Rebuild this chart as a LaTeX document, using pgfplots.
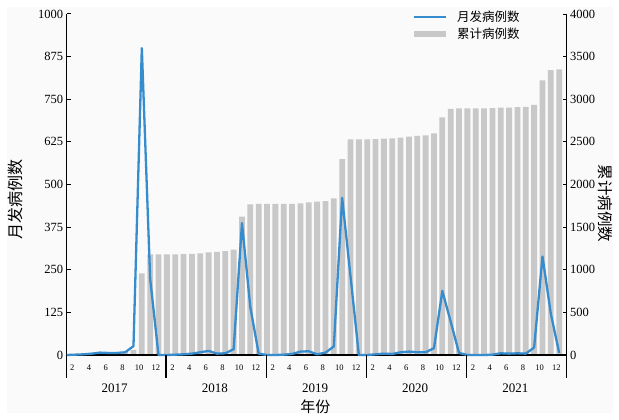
\documentclass[border=0pt]{standalone}
\usepackage{fontspec}
\setmainfont{Liberation Serif}
\newfontfamily\cjk{Noto Sans CJK SC}
\usepackage{pgfplots}
\usepackage{pgfplotstable}
\pgfplotsset{compat=1.18}
\definecolor{linec}{RGB}{55,140,205}
\definecolor{barc}{RGB}{200,200,200}
\definecolor{bgc}{RGB}{250,250,250}

\pgfplotstableread{
idx month cum
0 0 0
1 1 1
2 2 3
3 4 7
4 7 14
5 6 20
6 6 26
7 8 34
8 26 60
9 900 958
10 223 1181
11 0 1181
12 0 1181
13 1 1181
14 2 1183
15 4 1186
16 8 1192
17 12 1204
18 4 1210
19 5 1218
20 17 1235
21 387 1622
22 140 1768
23 4 1772
24 0 1772
25 0 1772
26 1 1773
27 3 1774
28 10 1779
29 11 1791
30 2 1799
31 7 1806
32 25 1838
33 461 2299
34 231 2530
35 0 2530
36 0 2530
37 2 2532
38 4 2538
39 3 2540
40 8 2549
41 10 2561
42 8 2569
43 8 2577
44 20 2600
45 188 2788
46 98 2886
47 6 2894
48 0 2894
49 0 2894
50 0 2894
51 1 2895
52 5 2901
53 4 2903
54 5 2909
55 4 2911
56 22 2933
57 289 3222
58 121 3343
59 6 3351
}\datatable

\begin{document}
\begin{tikzpicture}
\fill[bgc] (-60bp,-58bp) rectangle (546bp,348bp);
% ---- bars, right axis ----
\begin{axis}[
  at={(0,0)}, anchor=south west,
  scale only axis, width=500bp, height=341bp,
  xmin=0, xmax=59.9, ymin=0, ymax=4000,
  axis y line*=right, hide x axis,
  ytick={0,500,...,4000},
  yticklabel={\pgfmathprintnumber[assume math mode=true,1000 sep={}]{\tick}},
  yticklabel style={font=\fontsize{12.5bp}{14bp}\selectfont},
  tick align=inside, major tick length=4bp,
  tick style={black, line width=1bp},
  axis line style={black, line width=1.2bp},
  clip=false,
  legend style={at={(0.692,1.014)}, anchor=north west, draw=none, fill=none,
    font=\cjk\fontsize{12.5bp}{15bp}\selectfont, row sep=2.5bp, inner sep=0pt,
    nodes={inner sep=1.5bp}},
  legend cell align=left,
]
\addlegendimage{legend image code/.code={\path[draw=none,fill=none] (0bp,0bp) rectangle (42bp,0bp); \draw[linec, line width=1.6bp] (0bp,0bp) -- (32bp,0bp);}}
\addlegendentry{月发病例数}
\addplot[ybar, bar width=5.8bp, fill=barc, draw=none,
  legend image code/.code={\path[draw=none,fill=none] (0bp,0bp) rectangle (42bp,0bp); \fill[barc] (0bp,-3bp) rectangle (32bp,3bp);}]
  table[x=idx, y=cum] {\datatable};
\addlegendentry{累计病例数}
\path (rel axis cs:1,0.444) ++(38.5bp,0) node[rotate=-90, font=\cjk\fontsize{15.5bp}{17bp}\selectfont] {累计病例数};
\end{axis}
% ---- line, left axis ----
\begin{axis}[
  at={(0,0)}, anchor=south west,
  scale only axis, width=500bp, height=341bp,
  xmin=0, xmax=59.9, ymin=0, ymax=1000,
  axis x line*=bottom, axis y line*=left,
  ytick={0,125,...,1000},
  yticklabel={\pgfmathprintnumber[assume math mode=true,1000 sep={}]{\tick}},
  xtick={0.67,2.67,4.67,6.67,8.67,10.67,12.67,14.67,16.67,18.67,20.67,22.67,24.67,26.67,28.67,30.67,32.67,34.67,36.67,38.67,40.67,42.67,44.67,46.67,48.67,50.67,52.67,54.67,56.67,58.67},
  xticklabels={2,4,6,8,10,12,2,4,6,8,10,12,2,4,6,8,10,12,2,4,6,8,10,12,2,4,6,8,10,12},
  yticklabel style={font=\fontsize{12.5bp}{14bp}\selectfont},
  xticklabel style={font=\fontsize{8.5bp}{10bp}\selectfont, yshift=-6bp},
  xtick style={draw=none},
  tick align=inside, major tick length=4bp,
  ytick style={black, line width=1bp},
  axis line style={black, line width=1.2bp},
  clip=false,
]
\addplot[linec, line width=2.3bp, line join=round] table[x=idx, y=month] {\datatable};
\draw[black, line width=1.2bp] (axis cs:0,0) -- ++(0,-23bp);
\draw[black, line width=1.2bp] (axis cs:11.9,0) -- ++(0,-23bp);
\draw[black, line width=1.2bp] (axis cs:23.9,0) -- ++(0,-23bp);
\draw[black, line width=1.2bp] (axis cs:35.9,0) -- ++(0,-23bp);
\draw[black, line width=1.2bp] (axis cs:47.9,0) -- ++(0,-23bp);
\draw[black, line width=1.2bp] (axis cs:59.9,0) -- ++(0,-23bp);
\path (axis cs:5.75,0) ++(0,-33.3bp) node[font=\fontsize{13bp}{15bp}\selectfont] {2017};
\path (axis cs:17.75,0) ++(0,-33.3bp) node[font=\fontsize{13bp}{15bp}\selectfont] {2018};
\path (axis cs:29.75,0) ++(0,-33.3bp) node[font=\fontsize{13bp}{15bp}\selectfont] {2019};
\path (axis cs:41.75,0) ++(0,-33.3bp) node[font=\fontsize{13bp}{15bp}\selectfont] {2020};
\path (axis cs:53.75,0) ++(0,-33.3bp) node[font=\fontsize{13bp}{15bp}\selectfont] {2021};
\path (axis cs:29.8,0) ++(0,-52bp) node[font=\cjk\fontsize{15bp}{17bp}\selectfont] {年份};
\path (rel axis cs:0,0.457) ++(-51.7bp,0) node[rotate=90, font=\cjk\fontsize{16bp}{18bp}\selectfont] {月发病例数};
\end{axis}
\pgfresetboundingbox
\path[use as bounding box] (-66.7bp,-65bp) rectangle (552.3bp,355bp);
\end{tikzpicture}
\end{document}
